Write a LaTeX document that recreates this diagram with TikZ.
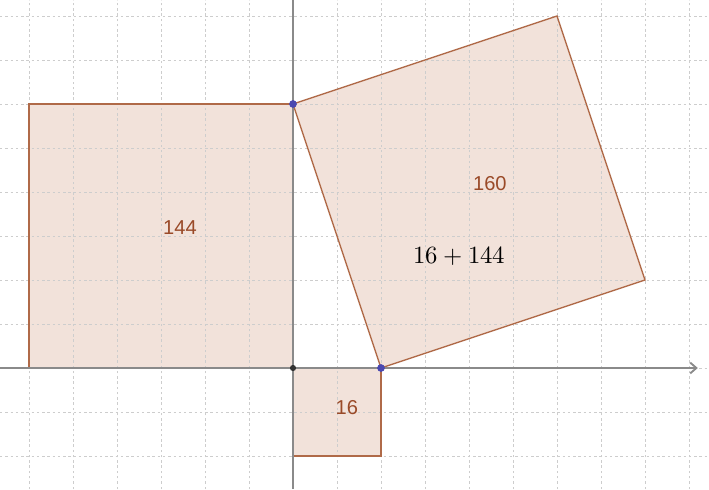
\documentclass[tikz,border=0pt]{standalone}
\usepackage{fontspec}
\setmainfont{Liberation Sans}
\usepackage{unicode-math}
\setmathfont{Latin Modern Math}
\usetikzlibrary{arrows.meta}
\definecolor{sqfill}{HTML}{F2E2DA}
\definecolor{sqedge}{HTML}{B06A48}
\definecolor{lbl}{HTML}{9A4A28}
\definecolor{gridc}{HTML}{CDCDCD}
\definecolor{axisc}{HTML}{8A8A8A}
\definecolor{ptblue}{HTML}{4A48B0}
\tikzset{
  sq/.style={fill=sqfill, draw=sqedge, line width=0.9pt},
  gridline/.style={gridc, line width=0.6pt, dash pattern=on 1.6pt off 1.8pt},
  axisline/.style={axisc, line width=1.2pt},
  lab/.style={text=lbl, font=\fontsize{13}{15}\selectfont},
  bpt/.style={circle, fill=ptblue, inner sep=0pt, minimum size=5pt},
  kpt/.style={circle, fill=black!80, inner sep=0pt, minimum size=4pt}
}
\begin{document}
\begin{tikzpicture}[x=0.5cm,y=0.5cm]
\useasboundingbox (-13.318,-5.5) rectangle (18.909,16.727);
\fill[white] (-13.318,-5.5) rectangle (18.909,16.727);
% named corners
\coordinate (O) at (0,0);
\coordinate (A) at (0,12);
\coordinate (B) at (4,0);
\coordinate (C) at (12,16);
\coordinate (D) at (16,4);
\coordinate (L1) at (-12,0);
\coordinate (L2) at (-12,12);
\coordinate (S1) at (0,-4);
\coordinate (S2) at (4,-4);
% squares fill
\fill[sqfill] (L1) -- (O) -- (A) -- (L2) -- cycle;
\fill[sqfill] (O) -- (B) -- (S2) -- (S1) -- cycle;
\fill[sqfill] (A) -- (B) -- (D) -- (C) -- cycle;
% grid
\foreach \x in {-12,-10,...,18} \draw[gridline] (\x,-5.5) -- (\x,16.727);
\foreach \y in {-4,-2,...,16} \draw[gridline] (-13.318,\y) -- (18.909,\y);
% edges
\draw[sqedge, line width=0.9pt] (L1) -- (O) -- (A) -- (L2) -- cycle;
\draw[sqedge, line width=0.9pt] (O) -- (B) -- (S2) -- (S1) -- cycle;
\draw[sqedge, line width=0.9pt] (A) -- (B) -- (D) -- (C) -- cycle;
% axes
\coordinate (XL) at (-13.318,0);
\coordinate (XR) at (18.4,0);
\coordinate (YB) at (0,-5.5);
\coordinate (YT) at (0,16.727);
\draw[axisline, -{Straight Barb[length=4pt,width=7pt]}] (XL) -- (XR);
\draw[axisline] (YB) -- (YT);
% points
\node[kpt] (pO) at (O) {};
\node[bpt] (pA) at (A) {};
\node[bpt] (pB) at (B) {};
% labels
\node[lab] (l144) at (-5.14,6.36) {144};
\node[lab] (l160) at (8.95,8.36) {160};
\node[lab] (l16) at (2.45,-1.82) {16};
\node[font=\fontsize{16}{18}\selectfont] (lsum) at (7.55,5.09) {$16+144$};
\end{tikzpicture}
\end{document}
